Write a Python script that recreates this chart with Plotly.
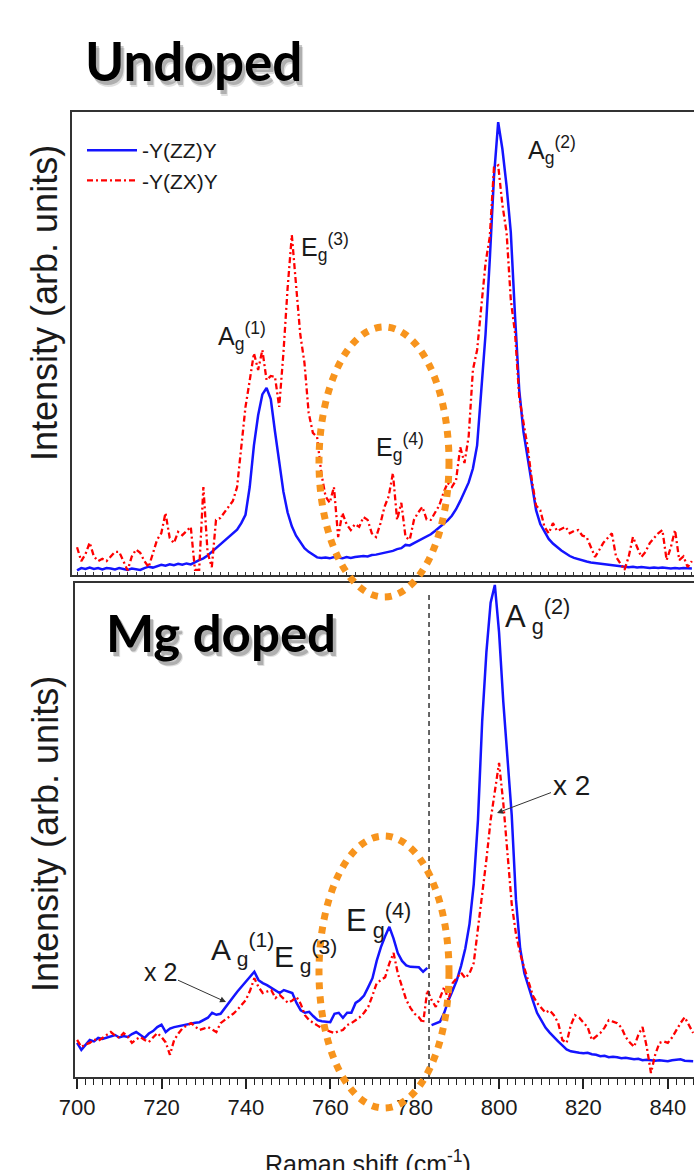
import plotly.graph_objects as go

# ---------------- data ----------------
wavenumber = list(range(700, 847))  # cm-1, 1 cm-1 steps

# Undoped, -Y(ZZ)Y (blue)
zz_undoped = [
    1.0, 1.5, 1.3, 1.6, 1.3, 1.5, 1.2, 1.5, 1.4, 1.2,
    1.5, 1.3, 1.1, 1.4, 1.3, 1.1, 1.5, 1.8, 1.6, 1.9,
    2.2, 2.0, 2.3, 2.1, 2.4, 2.2, 2.5, 2.3, 2.8, 3.2,
    3.6, 4.2, 5.0, 5.8, 6.6, 7.4, 8.2, 9.0, 9.8, 11.2,
    13.0, 19.0, 28.0, 34.5, 39.0, 40.4, 38.0, 31.0, 24.0, 18.0,
    13.5, 10.5, 8.5, 7.0, 5.8, 5.0, 4.3, 3.8, 3.7, 3.8,
    3.6, 3.9, 3.8, 3.6, 3.9, 3.7, 3.9, 4.0, 4.1, 4.0,
    4.3, 4.4, 4.6, 4.7, 4.9, 5.2, 5.6, 5.8, 6.5, 6.4,
    6.9, 7.4, 7.8, 8.3, 8.8, 9.5, 10.2, 11.0, 11.8, 12.8,
    14.2, 16.0, 18.0, 20.0, 23.0, 28.0, 40.0, 52.0, 68.0, 86.0,
    97.8, 92.0, 84.0, 74.0, 56.0, 40.0, 31.0, 25.0, 19.0, 14.0,
    11.0, 9.5, 7.8, 6.8, 6.0, 5.3, 4.7, 4.1, 3.7, 3.4,
    3.1, 2.9, 2.7, 2.6, 2.4, 2.3, 2.2, 2.1, 2.0, 1.9,
    1.8, 1.7, 1.8, 1.6, 1.7, 1.6, 1.5, 1.6, 1.5, 1.6,
    1.5, 1.4, 1.5, 1.4, 1.5, 1.5, 1.4,
]

# Undoped, -Y(ZX)Y (red)
zx_undoped = [
    6.0, 3.0, 4.5, 7.0, 4.0, 3.0, 3.5, 3.0, 4.0, 5.0,
    5.0, 3.0, 1.0, 4.0, 5.5, 4.8, 3.0, 1.7, 4.8, 7.6,
    9.0, 13.4, 8.0, 6.9, 9.3, 8.6, 9.5, 10.4, 1.1, 1.1,
    19.0, 4.8, 1.7, 11.9, 12.3, 13.5, 14.7, 16.0, 19.0, 27.0,
    36.3, 42.0, 47.9, 44.3, 48.6, 42.1, 43.0, 42.8, 36.3, 47.9,
    62.0, 73.4, 62.2, 52.0, 45.8, 35.0, 30.7, 29.8, 22.0, 17.0,
    15.6, 19.0, 8.2, 13.4, 11.0, 9.7, 11.0, 10.4, 12.5, 11.9,
    9.0, 8.2, 11.0, 14.7, 17.0, 22.0, 11.9, 15.6, 8.2, 7.6,
    11.9, 13.5, 14.7, 12.0, 11.9, 13.4, 15.0, 17.7, 19.9, 19.0,
    20.5, 27.6, 24.2, 30.0, 44.3, 48.6, 58.0, 67.4, 73.0, 88.0,
    88.5, 80.0, 73.9, 59.4, 52.3, 38.4, 33.0, 27.6, 20.5, 15.0,
    14.0, 10.4, 9.0, 11.2, 9.5, 10.0, 10.4, 9.0, 9.5, 9.7,
    8.5, 8.2, 6.0, 3.9, 5.4, 7.0, 8.0, 9.0, 3.9, 2.5,
    1.1, 4.0, 8.2, 6.0, 3.9, 5.0, 6.9, 8.0, 9.0, 9.7,
    3.2, 6.0, 9.7, 3.2, 4.0, 1.7, 3.0,
]

# Mg doped, -Y(ZZ)Y (blue)
zz_mg = [
    6.9, 5.5, 6.5, 7.5, 7.2, 7.9, 7.7, 8.0, 8.3, 8.5,
    8.0, 8.3, 8.1, 8.7, 9.1, 8.5, 7.9, 8.8, 9.3, 10.1,
    10.6, 9.1, 9.8, 10.1, 10.3, 10.5, 10.6, 10.8, 11.0, 11.1,
    11.5, 12.0, 13.0, 12.6, 12.8, 14.0, 15.0, 16.2, 17.3, 18.3,
    19.2, 20.3, 21.3, 19.6, 19.0, 18.6, 18.1, 17.6, 17.0, 17.6,
    17.3, 17.0, 15.0, 13.5, 13.0, 13.2, 12.3, 11.5, 11.3, 11.2,
    11.1, 12.8, 13.0, 12.0, 13.0, 13.0, 15.0, 15.6, 16.5, 18.2,
    20.0, 23.5, 26.3, 28.5, 30.4, 28.0, 25.1, 23.5, 22.6, 22.3,
    22.3, 22.2, 21.3, 22.1, 10.5, 10.8, 11.2, 13.0, 15.5, 17.5,
    19.6, 22.5, 26.0, 31.0, 39.0, 52.0, 72.0, 86.0, 96.0, 99.6,
    90.0, 76.0, 64.0, 53.0, 36.0, 26.0, 21.0, 18.0, 15.5, 13.0,
    11.5, 10.0, 9.0, 8.0, 7.2, 6.4, 5.6, 5.2, 5.0, 4.9,
    4.8, 4.9, 4.6, 4.5, 4.2, 4.3, 4.0, 4.1, 4.0, 3.8,
    3.9, 3.7, 3.6, 3.7, 3.4, 3.5, 3.4, 3.3, 3.4, 3.3,
    3.2, 3.4, 3.5, 3.6, 3.3, 3.2, 3.2,
]

# Mg doped, -Y(ZX)Y x2 (red)
zx_mg_x2 = [
    7.5, 6.1, 6.6, 6.9, 7.6, 7.3, 7.9, 8.5, 9.1, 8.4,
    7.9, 8.9, 8.2, 6.9, 7.6, 8.1, 7.5, 7.1, 8.0, 8.9,
    8.1, 7.0, 4.5, 7.5, 8.8, 9.9, 10.4, 10.9, 10.2, 9.5,
    9.8, 10.1, 9.6, 9.1, 10.9, 11.5, 12.1, 12.8, 13.6, 14.5,
    15.6, 17.5, 20.0, 18.2, 17.0, 17.3, 17.6, 16.0, 16.6, 15.8,
    15.0, 15.5, 16.2, 14.8, 12.5, 11.5, 10.9, 10.4, 9.9, 9.5,
    9.2, 8.9, 9.3, 9.5, 10.5, 10.9, 11.5, 12.1, 13.0, 14.2,
    16.5, 19.0, 19.6, 20.2, 23.0, 25.1, 21.0, 18.5, 15.6, 14.0,
    12.8, 12.1, 10.9, 17.6, 15.6, 14.2, 16.0, 18.2, 15.6, 19.0,
    20.0, 21.1, 20.0, 21.0, 23.1, 30.0, 38.0, 44.0, 52.0, 58.0,
    63.6, 55.5, 45.0, 35.0, 29.0, 25.0, 22.0, 19.0, 16.5, 15.0,
    14.0, 13.0, 13.5, 12.5, 11.0, 7.5, 6.9, 10.5, 12.5, 12.0,
    11.0, 10.1, 7.5, 8.2, 8.9, 10.0, 11.5, 11.2, 10.9, 10.0,
    8.1, 7.0, 6.1, 8.5, 10.1, 6.1, 0.8, 4.5, 6.9, 7.2,
    6.9, 8.0, 9.5, 10.9, 12.1, 10.5, 8.9,
]

series_names = ["-Y(ZZ)Y", "-Y(ZX)Y"]
gap_position = 783.5       # blue Mg-doped spectrum is broken here
marker_line_x = 783.4      # dashed vertical guide line
x_ticks = [700, 720, 740, 760, 780, 800, 820, 840]

# ---------------- figure ----------------
W, H = 694, 1170


def px(x):
    return x / W


def py(y):
    return 1 - y / H


BLUE = "rgb(20,20,255)"
RED = "rgb(255,0,0)"
ORANGE = "#F7941D"
FONT = "Liberation Sans, Arial, sans-serif"
TXT = "#1a1a1a"
RED_DASH = "6px,3px,2px,3px"

fig = go.Figure()

fig.add_trace(go.Scatter(x=wavenumber, y=zz_undoped, mode="lines", name=series_names[0],
                         line=dict(color=BLUE, width=2.5), xaxis="x", yaxis="y"))
fig.add_trace(go.Scatter(x=wavenumber, y=zx_undoped, mode="lines", name=series_names[1],
                         line=dict(color=RED, width=2.3, dash=RED_DASH), xaxis="x", yaxis="y"))

lo_x = [w for w in wavenumber if w < gap_position]
lo_y = [v for w, v in zip(wavenumber, zz_mg) if w < gap_position]
hi_x = [w for w in wavenumber if w > gap_position]
hi_y = [v for w, v in zip(wavenumber, zz_mg) if w > gap_position]
fig.add_trace(go.Scatter(x=lo_x, y=lo_y, mode="lines", showlegend=False,
                         line=dict(color=BLUE, width=2.5), xaxis="x2", yaxis="y2"))
fig.add_trace(go.Scatter(x=hi_x, y=hi_y, mode="lines", showlegend=False,
                         line=dict(color=BLUE, width=2.5), xaxis="x2", yaxis="y2"))
fig.add_trace(go.Scatter(x=wavenumber, y=zx_mg_x2, mode="lines", showlegend=False,
                         line=dict(color=RED, width=2.3, dash=RED_DASH), xaxis="x2", yaxis="y2"))

frame = dict(showline=True, linecolor="#333", linewidth=2, showgrid=False, zeroline=False)

fig.update_layout(
    width=W, height=H,
    margin=dict(l=0, r=0, t=0, b=0, pad=0, autoexpand=False),
    paper_bgcolor="white", plot_bgcolor="white",
    font=dict(family=FONT, color=TXT),
    xaxis=dict(domain=[px(72), 1], range=[698.8, 846.5], anchor="y", mirror=True,
               ticks="inside", ticklen=3, tickcolor="#333", dtick=2, tick0=700,
               showticklabels=False, automargin=False, **frame),
    yaxis=dict(domain=[py(575), py(112)], range=[0, 100], anchor="x",
               showticklabels=False, ticks="", automargin=False, **frame),
    xaxis2=dict(domain=[px(75), 1], range=[699.5, 846.2], anchor="y2", mirror=True,
                ticks="outside", ticklen=10, tickwidth=1.5, tickcolor="#222",
                tickvals=x_ticks, ticktext=[str(t) for t in x_ticks],
                tickfont=dict(family=FONT, size=22, color=TXT), automargin=False,
                minor=dict(ticks="outside", ticklen=6, tickwidth=1.2, tickcolor="#222",
                           dtick=2, tick0=700),
                **frame),
    yaxis2=dict(domain=[py(1077), py(583)], range=[0, 100], anchor="x2",
                showticklabels=False, ticks="", automargin=False, **frame),
    legend=dict(x=px(82), y=py(130), xanchor="left", yanchor="top",
                bgcolor="rgba(0,0,0,0)", font=dict(family=FONT, size=21, color=TXT),
                tracegroupgap=0, itemwidth=50),
    showlegend=True,
)

ann = []


def label(text, x, y, size, xanchor="left"):
    ann.append(dict(text=text, x=px(x), y=py(y), xref="paper", yref="paper",
                    xanchor=xanchor, yanchor="middle", showarrow=False,
                    font=dict(family=FONT, size=size, color=TXT)))


# panel titles with soft shadow
for dx, dy, col in [(4, 6, "rgba(0,0,0,0.12)"), (3, 4, "rgba(0,0,0,0.22)"), (0, 0, "black")]:
    ann.append(dict(text="<b>Undoped</b>", x=px(193 + dx), y=py(60 + dy), xref="paper", yref="paper",
                    xanchor="center", yanchor="middle", showarrow=False,
                    font=dict(family="Lato, Open Sans, sans-serif", size=53, color=col)))
    ann.append(dict(text="<b>Mg doped</b>", x=px(221 + dx), y=py(632 + dy), xref="paper", yref="paper",
                    xanchor="center", yanchor="middle", showarrow=False,
                    font=dict(family="Lato, Open Sans, sans-serif", size=51, color=col)))

# peak labels, undoped
label("A<sub>g</sub><sup>(1)</sup>", 216, 336, 25)
label("E<sub>g</sub><sup>(3)</sup>", 299, 247, 25)
label("E<sub>g</sub><sup>(4)</sup>", 374, 447, 25)
label("A<sub>g</sub><sup>(2)</sup>", 526, 150, 25)

# peak labels, Mg doped
label("A<sub> g</sub><sup>(2)</sup>", 503, 616, 31)
label("E<sub> g</sub><sup>(4)</sup>", 344, 920, 31)
label("A<sub> g</sub><sup>(1)</sup>", 209, 949, 30)
label("E<sub> g</sub><sup>(3)</sup>", 272, 956, 30)

# axis titles
for yc in (303, 834):
    ann.append(dict(text="Intensity (arb. units)", x=px(45), y=py(yc), xref="paper", yref="paper",
                    xanchor="center", yanchor="middle", textangle=-90, showarrow=False,
                    font=dict(family=FONT, size=36, color=TXT)))
ann.append(dict(text="Raman shift (cm<sup>-1</sup>)", x=px(368), y=py(1162), xref="paper", yref="paper",
                xanchor="center", yanchor="middle", showarrow=False,
                font=dict(family=FONT, size=25, color=TXT)))

# x2 arrows
ann.append(dict(text="x 2", x=px(497), y=py(813), xref="paper", yref="paper",
                ax=74, ay=-28, showarrow=True, arrowhead=2, arrowsize=1.2, arrowwidth=1,
                arrowcolor="#333", font=dict(family=FONT, size=28, color=TXT)))
ann.append(dict(text="x 2", x=px(226), y=py(1002), xref="paper", yref="paper",
                ax=-66, ay=-30, showarrow=True, arrowhead=2, arrowsize=1.2, arrowwidth=1,
                arrowcolor="#333", font=dict(family=FONT, size=25, color=TXT)))

fig.update_layout(annotations=ann)

shapes = [
    dict(type="line", xref="x2", yref="paper", x0=marker_line_x, x1=marker_line_x,
         y0=py(1077), y1=py(592), line=dict(color="#333", width=1.5, dash="5px,4px")),
    dict(type="circle", xref="paper", yref="paper", x0=px(319), x1=px(449),
         y0=py(597), y1=py(327), line=dict(color=ORANGE, width=7, dash="7px,7px")),
    dict(type="circle", xref="paper", yref="paper", x0=px(319), x1=px(449),
         y0=py(1108), y1=py(836), line=dict(color=ORANGE, width=7, dash="7px,7px")),
]
fig.update_layout(shapes=shapes)

fig.write_html("out.html", config={"displayModeBar": False},
               post_script="document.body.style.margin='0px';document.body.style.overflow='hidden';")
